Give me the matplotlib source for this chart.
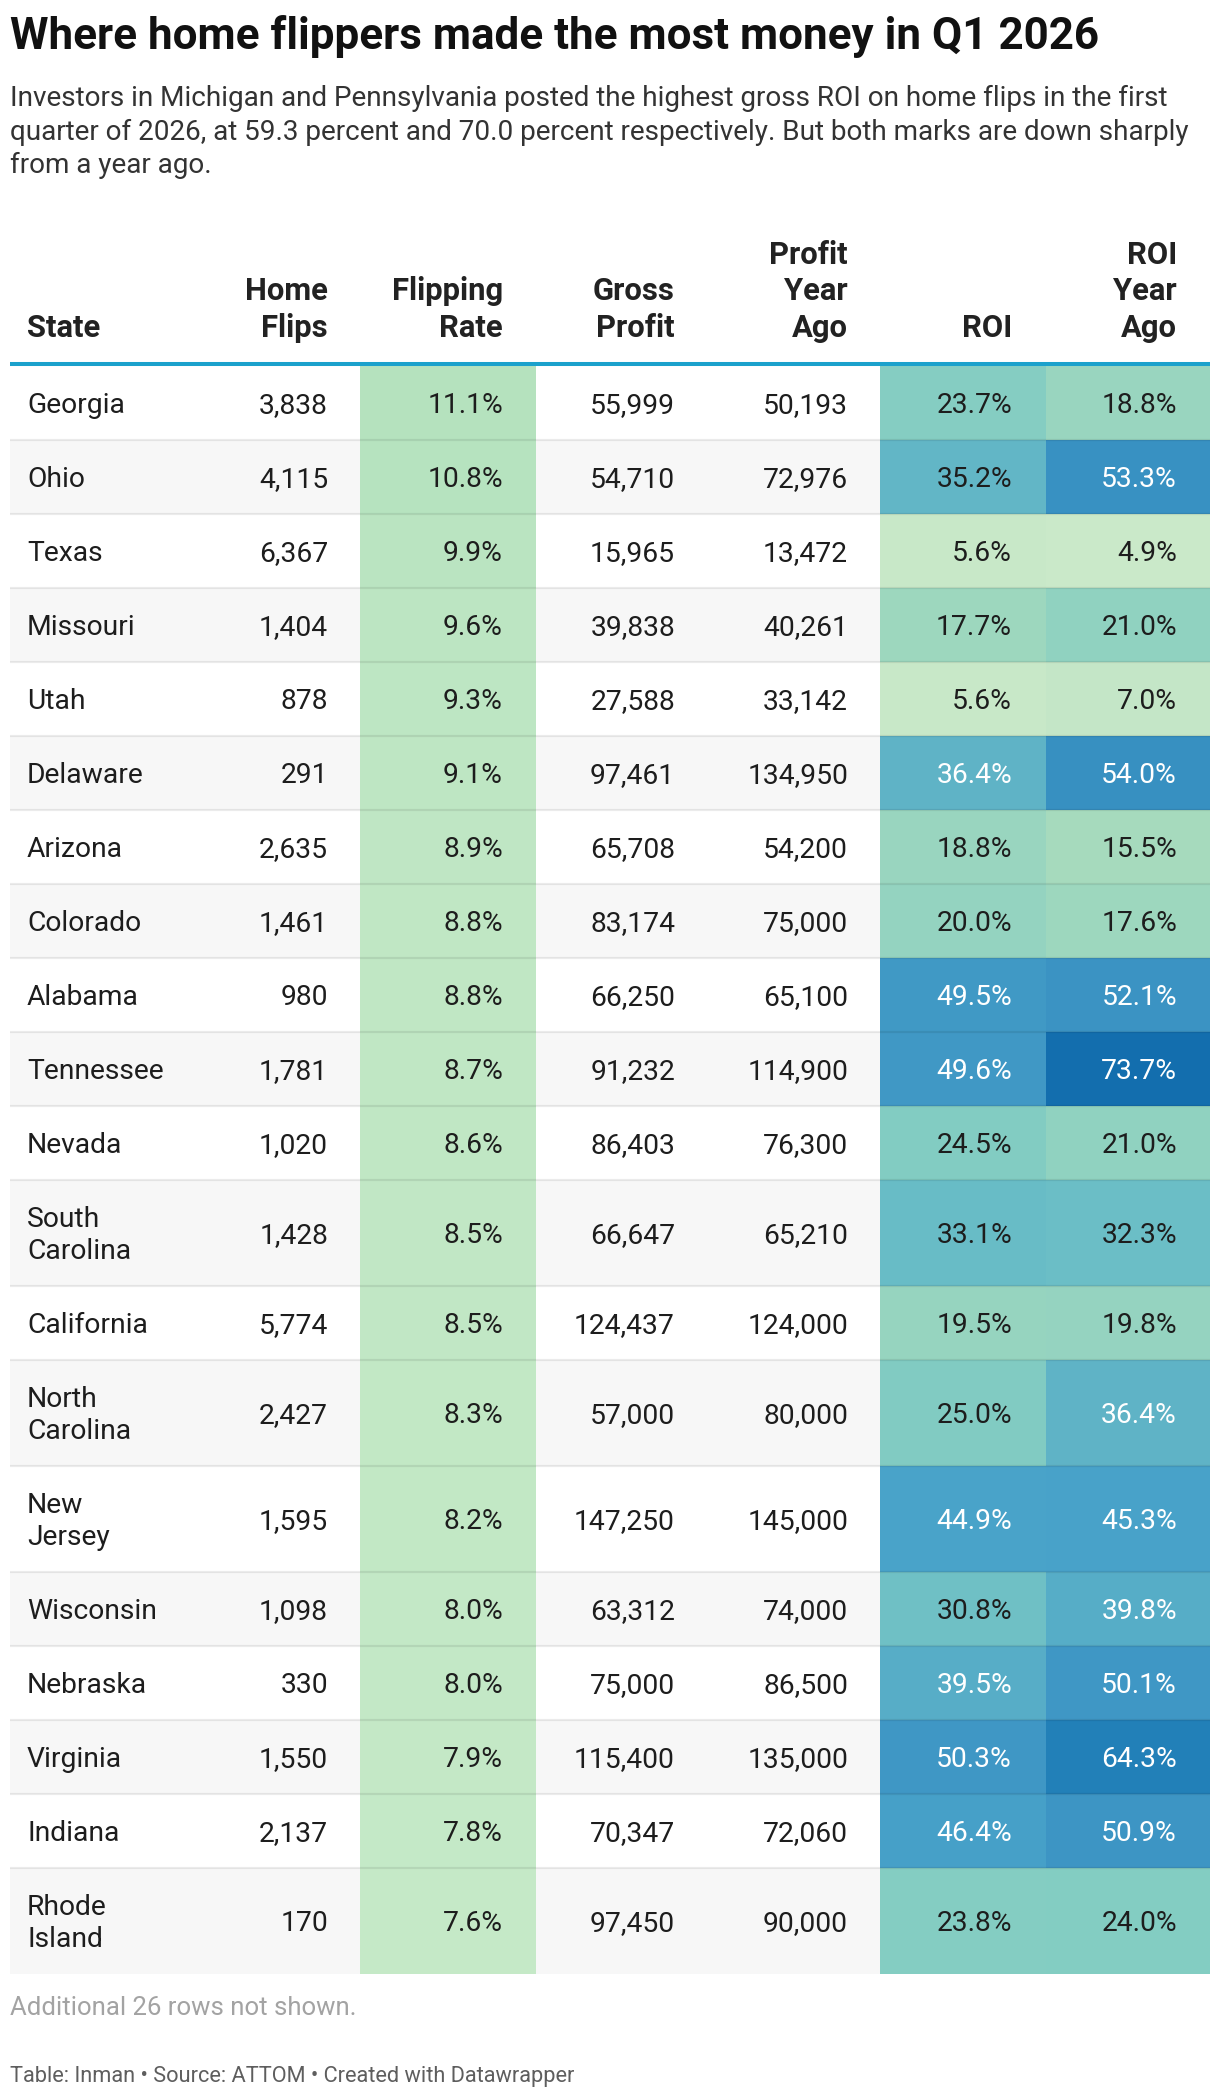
import matplotlib.pyplot as plt
from matplotlib.colors import LinearSegmentedColormap, Normalize

plt.rcParams["font.family"] = ["Roboto", "DejaVu Sans"]

title = "Where home flippers made the most money in Q1 2026"
subtitle = [
    "Investors in Michigan and Pennsylvania posted the highest gross ROI on home flips in the first",
    "quarter of 2026, at 59.3 percent and 70.0 percent respectively. But both marks are down sharply",
    "from a year ago.",
]
headers = ["State", "Home\nFlips", "Flipping\nRate", "Gross\nProfit", "Profit\nYear\nAgo", "ROI", "ROI\nYear\nAgo"]

states = ["Georgia", "Ohio", "Texas", "Missouri", "Utah", "Delaware", "Arizona", "Colorado",
          "Alabama", "Tennessee", "Nevada", "South Carolina", "California", "North Carolina",
          "New Jersey", "Wisconsin", "Nebraska", "Virginia", "Indiana", "Rhode Island"]
home_flips = [3838, 4115, 6367, 1404, 878, 291, 2635, 1461, 980, 1781, 1020, 1428, 5774, 2427,
              1595, 1098, 330, 1550, 2137, 170]
flipping_rate = [11.1, 10.8, 9.9, 9.6, 9.3, 9.1, 8.9, 8.8, 8.8, 8.7, 8.6, 8.5, 8.5, 8.3, 8.2,
                 8.0, 8.0, 7.9, 7.8, 7.6]
gross_profit = [55999, 54710, 15965, 39838, 27588, 97461, 65708, 83174, 66250, 91232, 86403,
                66647, 124437, 57000, 147250, 63312, 75000, 115400, 70347, 97450]
profit_year_ago = [50193, 72976, 13472, 40261, 33142, 134950, 54200, 75000, 65100, 114900, 76300,
                   65210, 124000, 80000, 145000, 74000, 86500, 135000, 72060, 90000]
roi = [23.7, 35.2, 5.6, 17.7, 5.6, 36.4, 18.8, 20.0, 49.5, 49.6, 24.5, 33.1, 19.5, 25.0, 44.9,
       30.8, 39.5, 50.3, 46.4, 23.8]
roi_year_ago = [18.8, 53.3, 4.9, 21.0, 7.0, 54.0, 15.5, 17.6, 52.1, 73.7, 21.0, 32.3, 19.8, 36.4,
                45.3, 39.8, 50.1, 64.3, 50.9, 24.0]

note = "Additional 26 rows not shown."
footer = "Table: Inman \u2022 Source: ATTOM \u2022 Created with Datawrapper"

# layout in pixels
W, H = 1220, 2098
LEFT, RIGHT = 10, 1210
TABLE_TOP = 366
LINE_H = 32
CAP = 9.8
col_right = [None, 328, 503, 675, 848, 1012, 1177]
flip_band = (360, 536)
roi_band = (880, 1046)
roi_ya_band = (1046, 1210)

# colour scales
roi_stops = [(4.9, "#cae9c9"), (15.5, "#a6dabd"), (23.8, "#84cdc2"), (33.1, "#68bcc6"),
             (36.4, "#5fb3c6"), (44.9, "#49a3c9"), (52.1, "#3b93c3"), (64.3, "#2280b8"),
             (73.7, "#136eae")]
lo, hi = roi_stops[0][0], roi_stops[-1][0]
roi_cmap = LinearSegmentedColormap.from_list(
    "roi", [((v - lo) / (hi - lo), c) for v, c in roi_stops])
roi_norm = Normalize(lo, hi)
flip_cmap = LinearSegmentedColormap.from_list("flip", ["#c5e9c7", "#b5e2be"])
flip_norm = Normalize(7.6, 11.1)

fig = plt.figure(figsize=(W / 100, H / 100), dpi=100)
ax = fig.add_axes([0, 0, 1, 1])
ax.set_xlim(0, W)
ax.set_ylim(H, 0)
ax.axis("off")

txt = "#1d1d1d"

ax.text(LEFT, 49, title, fontsize=31.7, fontweight="bold", color="#111111", va="baseline")
for i, line in enumerate(subtitle):
    ax.text(LEFT, 106 + i * 33.5, line, fontsize=20.1, color="#333333", va="baseline")

# header
for j, head in enumerate(headers):
    lines = head.split("\n")
    for k, line in enumerate(reversed(lines)):
        y = 337 - k * 36.5
        if j == 0:
            ax.text(27, y, line, fontsize=22.3, fontweight="bold", color="#222222", va="baseline")
        else:
            ax.text(col_right[j], y, line, fontsize=22.3, fontweight="bold", color="#222222",
                    va="baseline", ha="right")
ax.plot([LEFT, RIGHT], [364, 364], color="#1ba1cc", lw=2.9, solid_capstyle="butt")

# rows
labels = [s.replace(" ", "\n") for s in states]
heights = [42 + LINE_H * (lab.count("\n") + 1) for lab in labels]
tops = []
y = TABLE_TOP
for h in heights:
    tops.append(y)
    y += h

stripe = ["#ffffff" if i % 2 == 0 else "#f7f7f7" for i in range(len(states))]
ax.bar(LEFT, heights, width=RIGHT - LEFT, bottom=tops, align="edge", color=stripe, lw=0)
ax.bar(flip_band[0], heights, width=flip_band[1] - flip_band[0], bottom=tops, align="edge",
       color=flip_cmap(flip_norm(flipping_rate)), lw=0)
ax.bar(roi_band[0], heights, width=roi_band[1] - roi_band[0], bottom=tops, align="edge",
       color=roi_cmap(roi_norm(roi)), lw=0)
ax.bar(roi_ya_band[0], heights, width=roi_ya_band[1] - roi_ya_band[0], bottom=tops,
       align="edge", color=roi_cmap(roi_norm(roi_year_ago)), lw=0)

for t in tops[1:]:
    ax.plot([LEFT, RIGHT], [t, t], color="black", alpha=0.08, lw=1.6, solid_capstyle="butt")

fs = 20.3
for i in range(len(states)):
    mid = tops[i] + heights[i] / 2
    base = mid + CAP
    lab_lines = labels[i].split("\n")
    first = mid - (len(lab_lines) - 1) * LINE_H / 2 + CAP
    for k, line in enumerate(lab_lines):
        ax.text(27, first + k * LINE_H, line, fontsize=fs, color=txt, va="baseline")
    vals = [f"{home_flips[i]:,}", f"{flipping_rate[i]:.1f}%", f"{gross_profit[i]:,}",
            f"{profit_year_ago[i]:,}", f"{roi[i]:.1f}%", f"{roi_year_ago[i]:.1f}%"]
    colors = [txt, txt, txt, txt,
              "white" if roi[i] > 36 else txt,
              "white" if roi_year_ago[i] > 36 else txt]
    for j, (v, c) in enumerate(zip(vals, colors), start=1):
        ax.text(col_right[j], base, v, fontsize=fs, color=c, va="baseline", ha="right")

ax.text(LEFT, 2015, note, fontsize=18.5, color="#a3a3a3", va="baseline")
ax.text(LEFT, 2082, footer, fontsize=15.7, color="#5e5e5e", va="baseline")

fig.savefig("out.png", dpi=100, facecolor="white")
